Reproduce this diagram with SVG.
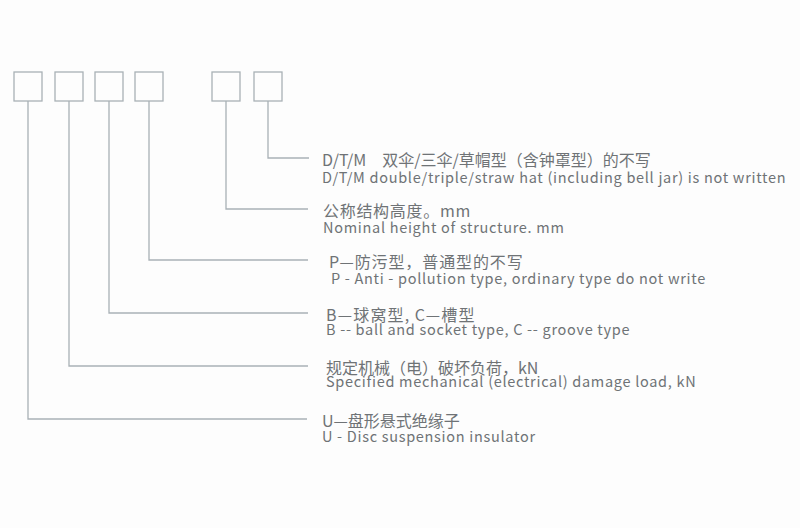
<svg xmlns="http://www.w3.org/2000/svg" width="800" height="528" viewBox="0 0 800 528">
<style>
.bg{fill:#fdfdfd}
.box{fill:none;stroke:#a9b1b6;stroke-width:1.3}
.ln{fill:none;stroke:#a9b1b6;stroke-width:1.3}
.zh{font-family:"Noto Sans CJK SC","Noto Sans",sans-serif;font-size:16px;fill:#6f7376}
.en{font-family:"Noto Sans CJK SC","Noto Sans",sans-serif;font-size:14.5px;letter-spacing:0.7px;fill:#6f7376}
</style>
<rect class="bg" x="0" y="0" width="800" height="528"/>
<g id="box1"><rect class="box" x="14" y="72" width="28" height="29"/></g>
<g id="box2"><rect class="box" x="55" y="72" width="28" height="29"/></g>
<g id="box3"><rect class="box" x="95" y="72" width="28" height="29"/></g>
<g id="box4"><rect class="box" x="135" y="72" width="28" height="29"/></g>
<g id="box5"><rect class="box" x="212" y="72" width="28" height="29"/></g>
<g id="box6"><rect class="box" x="254" y="72" width="28" height="29"/></g>
<g id="connectors">
<polyline class="ln" points="268,101 268,158 309,158"/>
<polyline class="ln" points="226,101 226,209 308,209"/>
<polyline class="ln" points="149,101 149,260 308,260"/>
<polyline class="ln" points="109,101 109,313 308,313"/>
<polyline class="ln" points="69,101 69,366 308,366"/>
<polyline class="ln" points="28,101 28,419 307,419"/>
</g>
<g id="label1">
<text class="zh" x="322" y="166">D/T/M　双伞/三伞/草帽型（含钟罩型）的不写</text>
<text class="en" x="322" y="183">D/T/M double/triple/straw hat (including bell jar) is not written</text>
</g>
<g id="label2">
<text class="zh" x="323" y="217" style="letter-spacing:0.7px">公称结构高度。mm</text>
<text class="en" x="323" y="233">Nominal height of structure. mm</text>
</g>
<g id="label3">
<text class="zh" x="329" y="268" style="letter-spacing:0.9px">P—防污型，普通型的不写</text>
<text class="en" x="331" y="284">P - Anti - pollution type, ordinary type do not write</text>
</g>
<g id="label4">
<text class="zh" x="326" y="321" style="letter-spacing:1.2px">B—球窝型,&#8201;C—槽型</text>
<text class="en" x="326" y="335">B -- ball and socket type, C -- groove type</text>
</g>
<g id="label5">
<text class="zh" x="326" y="374">规定机械（电）破坏负荷，kN</text>
<text class="en" x="326" y="387">Specified mechanical (electrical) damage load, kN</text>
</g>
<g id="label6">
<text class="zh" x="322" y="427">U—盘形悬式绝缘子</text>
<text class="en" x="322" y="442">U - Disc suspension insulator</text>
</g>
</svg>
